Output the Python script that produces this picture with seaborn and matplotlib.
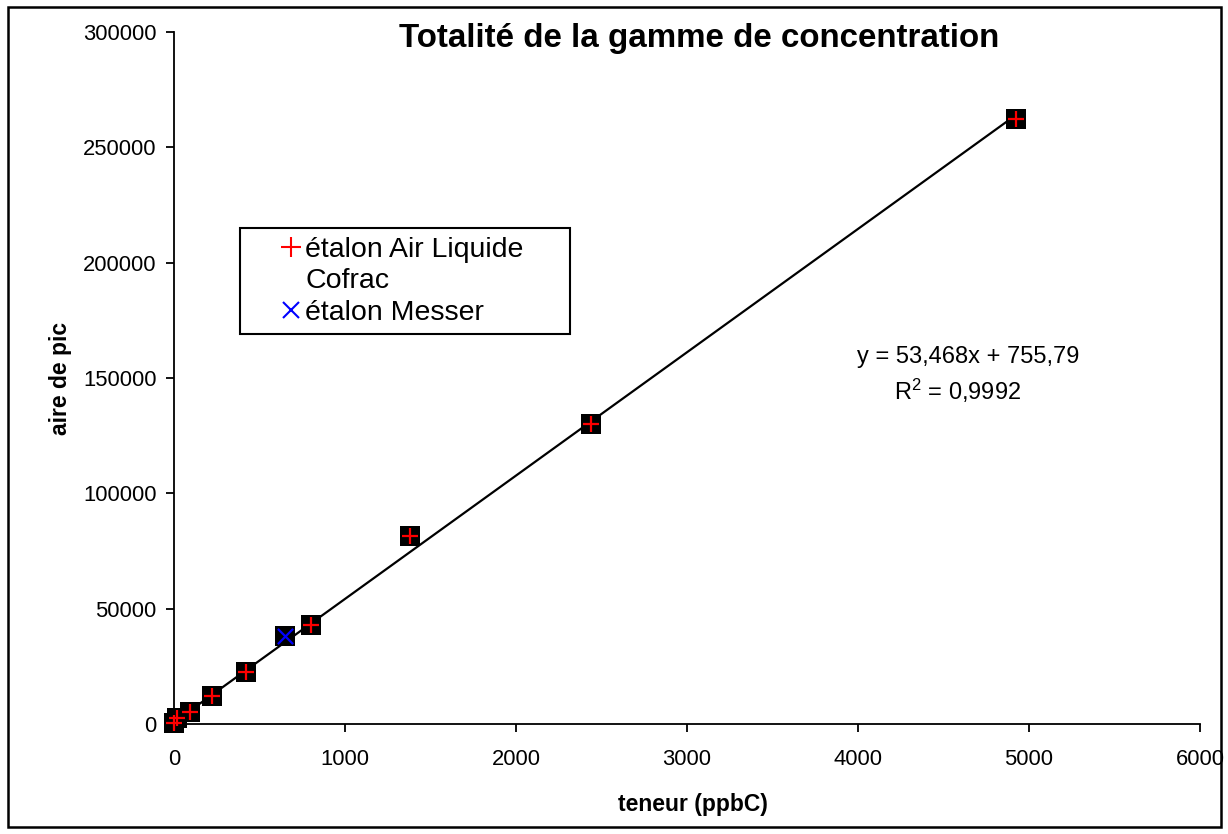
import matplotlib
matplotlib.use("Agg")
import matplotlib.pyplot as plt
from matplotlib.lines import Line2D
from matplotlib.patches import Rectangle
import numpy as np
import pandas as pd
import seaborn as sns

# Calibration points (concentration in ppbC, peak area)
teneur_air_liquide = [0, 15, 94, 224, 421, 799, 1383, 2439, 4924]
aire_air_liquide = [300, 2500, 5300, 12200, 22600, 42900, 81600, 130100, 262300]
teneur_messer = [649]
aire_messer = [38150]

# Linear fit reported on the chart
pente = 53.468
ordonnee = 755.79
r2 = 0.9992

x_ticks = [0, 1000, 2000, 3000, 4000, 5000, 6000]
y_ticks = [0, 50000, 100000, 150000, 200000, 250000, 300000]

sns.set_style("white")
plt.rcParams["font.family"] = ["Liberation Sans", "DejaVu Sans"]
plt.rcParams["text.color"] = "black"
plt.rcParams["axes.labelcolor"] = "black"
plt.rcParams["mathtext.fontset"] = "custom"
plt.rcParams["mathtext.rm"] = "Liberation Sans"
plt.rcParams["mathtext.it"] = "Liberation Sans"

fig = plt.figure(figsize=(12.28, 8.34), dpi=100)
ax = fig.add_axes([174 / 1228, 1 - 724 / 834, (1200 - 174) / 1228, (724 - 32) / 834])

df_al = pd.DataFrame({"teneur": teneur_air_liquide, "aire": aire_air_liquide})
df_me = pd.DataFrame({"teneur": teneur_messer, "aire": aire_messer})

# Regression line
x_fit = np.array([0, max(teneur_air_liquide)])
df_fit = pd.DataFrame({"teneur": x_fit, "aire": pente * x_fit + ordonnee})
sns.lineplot(data=df_fit, x="teneur", y="aire", color="black", lw=1.6, ax=ax, zorder=2)

# Black square backgrounds behind every marker
df_all = pd.concat([df_al, df_me])
sns.scatterplot(data=df_all, x="teneur", y="aire", marker="s", s=190, color="black",
                edgecolor="black", linewidth=0, ax=ax, zorder=3, clip_on=False)
sns.scatterplot(data=df_al, x="teneur", y="aire", marker="+", s=130, color="red",
                linewidth=1.6, ax=ax, zorder=4, clip_on=False)
sns.scatterplot(data=df_me, x="teneur", y="aire", marker="x", s=120, color="blue",
                linewidth=1.6, ax=ax, zorder=4, clip_on=False)

ax.set_xlim(0, 6000)
ax.set_ylim(0, 300000)
ax.set_xticks(x_ticks)
ax.set_yticks(y_ticks)
ax.set_xticklabels([str(v) for v in x_ticks])
ax.set_yticklabels([str(v) for v in y_ticks])

for side in ["top", "right"]:
    ax.spines[side].set_visible(False)
for side in ["left", "bottom"]:
    ax.spines[side].set_color("black")
    ax.spines[side].set_linewidth(1.3)
ax.tick_params(axis="both", direction="out", length=6, width=1.3, color="black",
               labelsize=15.8, labelcolor="black", bottom=True, left=True)
ax.tick_params(axis="x", pad=12)
ax.tick_params(axis="y", pad=6.5)

ax.set_xlabel("teneur (ppbC)", fontsize=16.5, fontweight="bold")
ax.set_ylabel("aire de pic", fontsize=16.5, fontweight="bold")
ax.xaxis.set_label_coords((693 - 174) / 1026, -(804 - 724) / 692)
ax.yaxis.set_label_coords(-(174 - 60) / 1026, (724 - 378) / 692)
ax.xaxis.label.set_verticalalignment("center")
ax.yaxis.label.set_verticalalignment("center")

fig.text(699 / 1228, 1 - 38 / 834, "Totalité de la gamme de concentration",
         ha="center", va="center", fontsize=23.9, fontweight="bold")

ax.text((968 - 174) / 1026, (724 - 357) / 692,
        f"y = {str(pente).replace('.', ',')}x + {str(ordonnee).replace('.', ',')}",
        transform=ax.transAxes, ha="center", va="center", fontsize=17)
ax.text((958 - 174) / 1026, (724 - 391) / 692,
        "R$^{2}$ = " + str(r2).replace(".", ","),
        transform=ax.transAxes, ha="center", va="center", fontsize=17)

handles = [
    Line2D([], [], marker="+", color="red", linestyle="none", markersize=14, markeredgewidth=1.5),
    Line2D([], [], marker="none", linestyle="none"),
    Line2D([], [], marker="x", color="blue", linestyle="none", markersize=12, markeredgewidth=1.5),
]
labels = ["étalon Air Liquide", "Cofrac", "étalon Messer"]
bx0 = (240 - 174) / 1026
by1 = (724 - 228) / 692
bw = (570 - 240) / 1026
bh = (335 - 228) / 692
leg = ax.legend(handles, labels, loc="upper left", bbox_to_anchor=(bx0, by1 - bh, bw, bh),
                mode="expand", borderaxespad=0, fontsize=20.5, frameon=True, fancybox=False,
                handlelength=3.0, handletextpad=-1.0, labelspacing=0.2, borderpad=0.3)
leg.get_frame().set_edgecolor("black")
leg.get_frame().set_linewidth(1.5)
leg.get_frame().set_facecolor("white")
leg.get_frame().set_alpha(1)

# Outer chart frame
fig.add_artist(Rectangle((8 / 1228, 7 / 834), (1221 - 8) / 1228, (827 - 7) / 834,
                         transform=fig.transFigure, fill=False, edgecolor="black", linewidth=1.8))

fig.savefig("out.png", dpi=100, facecolor="white")
